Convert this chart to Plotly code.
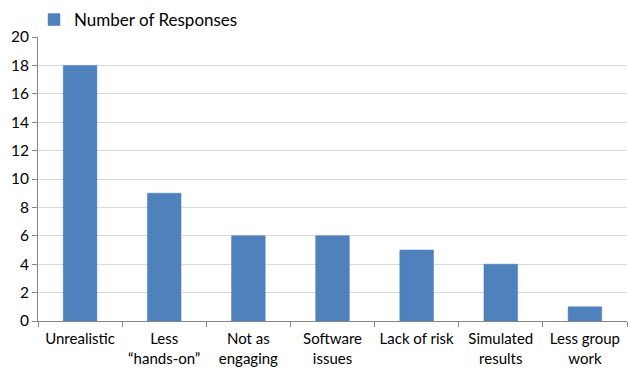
import plotly.graph_objects as go

categories = ["Unrealistic", "Less<br>“hands-on”", "Not as<br>engaging", "Software<br>issues",
              "Lack of risk", "Simulated<br>results", "Less group<br>work"]
responses = [18, 9, 6, 6, 5, 4, 1]
series_name = "Number of Responses"
y_ticks = list(range(0, 21, 2))

fig = go.Figure()
fig.add_trace(go.Bar(
    x=categories, y=responses, name=series_name,
    marker=dict(color="#4F81BD", line=dict(color="#4A7EBB", width=0.5)),
    width=0.4, showlegend=True,
))

font_family = "Lato, 'Open Sans', sans-serif"
fig.update_layout(
    width=628, height=370,
    margin=dict(l=38, r=1, t=37, b=49, autoexpand=False),
    paper_bgcolor="white", plot_bgcolor="white",
    font=dict(family=font_family, size=15, color="#000000"),
    showlegend=True,
    legend=dict(orientation="h", x=34/628, y=1 - 2/370, xref="container", yref="container",
                xanchor="left", yanchor="top", font=dict(size=17),
                itemwidth=30, tracegroupgap=0,
                bgcolor="rgba(0,0,0,0)"),
    xaxis=dict(
        type="category", tickson="boundaries", ticks="outside", ticklen=5,
        tickcolor="#868686", showline=True, linecolor="#868686", linewidth=1,
        showgrid=False, tickfont=dict(size=15), tickangle=0, automargin=False,
        ticklabelstandoff=4,
    ),
    yaxis=dict(
        range=[0, 20], tickvals=y_ticks, ticks="outside", ticklen=5,
        tickcolor="#868686", showline=True, linecolor="#868686", linewidth=1,
        showgrid=True, gridcolor="#D9D9D9", gridwidth=1, zeroline=False,
        tickfont=dict(size=15.5), automargin=False,
    ),
)

fig.write_html("out.html")
